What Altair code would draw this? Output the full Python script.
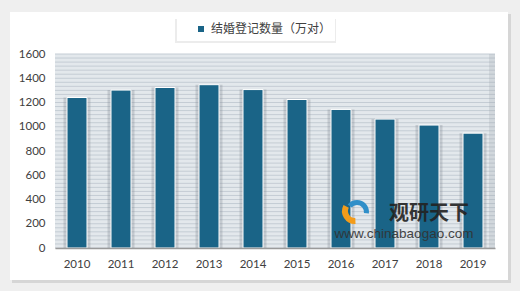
import altair as alt
import pandas as pd

years = ['2010', '2011', '2012', '2013', '2014', '2015', '2016', '2017', '2018', '2019']
values = [1241.0, 1302.4, 1323.6, 1346.9, 1306.7, 1224.7, 1142.8, 1063.1, 1013.9, 947.1]
series_name = '结婚登记数量（万对）'
y_ticks = [0, 200, 400, 600, 800, 1000, 1200, 1400, 1600]

df = pd.DataFrame({'year': years, 'value': values, 'series': [series_name] * len(years)})
one = pd.DataFrame({'a': [0]})

W, H = 440, 194
yscale = alt.Scale(domain=[0, 1600], nice=False, zero=True)
xscale = alt.Scale(paddingInner=0, paddingOuter=0)

x_axis = alt.Axis(labelAngle=0, ticks=False, domain=True, domainColor='#9a9a9a',
                  domainWidth=1.5, grid=False, labelFont='Lato', labelFontSize=11.5,
                  labelColor='#404040', labelPadding=10, zindex=1)
y_axis = alt.Axis(values=y_ticks, format='d', domain=False, ticks=False, grid=False,
                  labelFont='Lato', labelFontSize=11.5, labelColor='#404040',
                  labelPadding=10, zindex=1)

X = alt.X('year:N', scale=xscale, title=None, axis=x_axis)
Y = alt.Y('value:Q', scale=yscale, title=None, axis=y_axis)


def deco_rect(x, x2, y, y2, color, opacity=1.0):
    return alt.Chart(one).mark_rect(color=color, opacity=opacity).encode(
        x=alt.value(x), x2=alt.value(x2), y=alt.value(y), y2=alt.value(y2))


card_shadow = deco_rect(-43, 456, -40, 229, '#d6d6d6')
card = deco_rect(-45, 453, -42, 226, '#ffffff')
legend_box_shadow = deco_rect(120, 281, -35, -11, '#ececec')
legend_box = deco_rect(122, 280, -36, -13, '#ffffff')
plot_bg = deco_rect(0, W, 0, H, '#e3e8ec')

stripes = alt.Chart(alt.sequence(0, 49, as_='i')).transform_calculate(
    value='datum.i * 200 / 6'
).mark_rule(color='#c4ccd4', strokeWidth=1).encode(
    y=Y, x=alt.value(0), x2=alt.value(W)
)
plot_right_shade = deco_rect(434, W, 0, H, '#9aa3ab', 0.25)

shadow = alt.Chart(df).mark_bar(width=27, color='#7d868f', opacity=0.3).encode(x=X, y=Y)

bars = alt.Chart(df).mark_bar(width=20, stroke='#ffffff', strokeWidth=1).encode(
    x=X, y=Y,
    color=alt.Color('series:N', scale=alt.Scale(range=['#1a6487']),
                    legend=alt.Legend(orient='none', legendX=140, legendY=-31, title=None,
                                      symbolType='square', symbolSize=36, symbolStrokeWidth=0,
                                      labelFont='Noto Sans CJK SC', labelFontSize=12,
                                      labelColor='#404040', padding=0, labelOffset=4)),
)

logo_orange = alt.Chart(one).mark_arc(color='#f39c1a').encode(
    x=alt.value(300), y=alt.value(157), radius=alt.value(13), radius2=alt.value(7),
    theta=alt.value(3.1), theta2=alt.value(5.2))
logo_blue1 = alt.Chart(one).mark_arc(color='#2f8fc9').encode(
    x=alt.value(302), y=alt.value(158), radius=alt.value(12), radius2=alt.value(7),
    theta=alt.value(5.4), theta2=alt.value(6.283))
logo_blue2 = alt.Chart(one).mark_arc(color='#2f8fc9').encode(
    x=alt.value(302), y=alt.value(158), radius=alt.value(12), radius2=alt.value(7),
    theta=alt.value(0.0), theta2=alt.value(1.7))
wm1 = alt.Chart(one).mark_text(text='观研天下', font='Noto Sans CJK SC', fontSize=20,
                                fontWeight='bold', color='#222222', opacity=0.9).encode(
    x=alt.value(374), y=alt.value(160))
wm2 = alt.Chart(one).mark_text(text='www.chinabaogao.com', font='Liberation Sans', fontSize=13.5,
                                color='#333333', opacity=0.9).encode(
    x=alt.value(349), y=alt.value(180))

chart = alt.layer(
    card_shadow, card, legend_box_shadow, legend_box, plot_bg, stripes, plot_right_shade,
    shadow, bars, logo_orange, logo_blue1, logo_blue2, wm1, wm2
).properties(
    width=W, height=H,
    autosize=alt.AutoSizeParams(type='none'),
    padding={'left': 55, 'top': 54, 'right': 25, 'bottom': 43},
    background='#efefef'
).configure_view(stroke=None)

chart.save('out.html', embed_options={'renderer': 'svg', 'actions': False})
